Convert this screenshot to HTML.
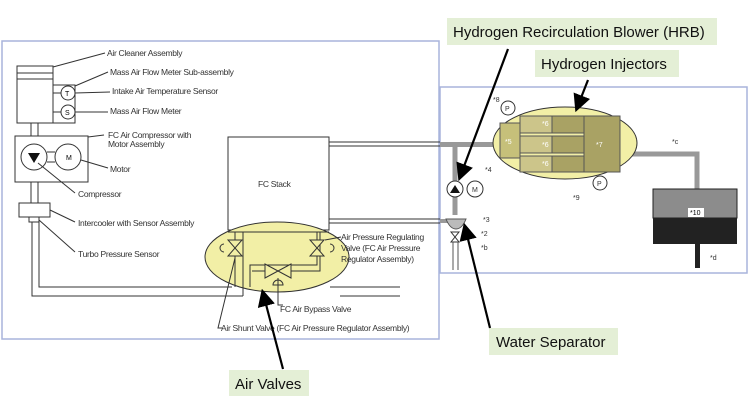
<!DOCTYPE html>
<html><head><meta charset="utf-8"><style>
body{margin:0;background:#fff;}
svg{display:block;font-family:"Liberation Sans",sans-serif;}
.s{font-size:8.5px;fill:#333;letter-spacing:-0.3px}
.c{font-family:"Liberation Sans",sans-serif;font-size:15px;fill:#111}
</style></head><body>
<svg width="750" height="404" viewBox="0 0 750 404">
<defs><marker id="ah" markerWidth="8" markerHeight="8" refX="6" refY="4" orient="auto"><path d="M0,0 L8,4 L0,8 z" fill="#000"/></marker></defs>
<!-- frames -->
<rect x="2" y="41" width="437" height="298" fill="none" stroke="#a8b4dc" stroke-width="1.5"/>
<rect x="440" y="87" width="307" height="186" fill="none" stroke="#a8b4dc" stroke-width="1.5"/>
<g stroke="#333" fill="none" stroke-width="1">
<!-- air cleaner -->
<rect x="17" y="66" width="36" height="57" fill="#fff"/>
<line x1="17" y1="73" x2="53" y2="73"/><line x1="17" y1="79" x2="53" y2="79"/>
<rect x="53" y="85" width="22" height="38"/>
<line x1="53" y1="93" x2="61" y2="93"/><line x1="53" y1="112" x2="61" y2="112"/>
<circle cx="68" cy="93" r="7" fill="#fff"/><circle cx="68" cy="112" r="7" fill="#fff"/>
<line x1="31" y1="123" x2="31" y2="136"/><line x1="38" y1="123" x2="38" y2="136"/>
<!-- compressor -->
<rect x="15" y="136" width="73" height="46"/>
<circle cx="34" cy="157" r="13" fill="#fff"/><circle cx="68" cy="157" r="13" fill="#fff"/>
<line x1="47" y1="152" x2="55" y2="152"/><line x1="47" y1="162" x2="55" y2="162"/>
<line x1="31" y1="182" x2="31" y2="203"/><line x1="38" y1="182" x2="38" y2="203"/>
<rect x="19" y="203" width="31" height="14"/>
<rect x="29" y="217" width="10" height="5"/>
<path d="M32 222 V296 H243"/><path d="M39 222 V287 H232"/>
<!-- leader lines left -->
<path d="M53 67 L105 53"/><path d="M75 86 L108 72"/><path d="M75 93 L110 92"/><path d="M75 112 L108 112"/>
<path d="M88 137 L104 135"/><path d="M81 160 L108 168"/><path d="M38 163 L75 193"/><path d="M50 210 L75 222"/><path d="M39 220 L75 252"/>
<!-- FC stack -->
<rect x="228" y="137" width="101" height="93" fill="#fff"/>
<line x1="329" y1="142" x2="440" y2="142"/><line x1="329" y1="146" x2="440" y2="146"/>
<line x1="329" y1="219" x2="440" y2="219"/><line x1="329" y1="223" x2="440" y2="223"/>
</g>
<text class="s" x="107" y="56">Air Cleaner Assembly</text>
<text class="s" x="110" y="75">Mass Air Flow Meter Sub-assembly</text>
<text class="s" x="112" y="94">Intake Air Temperature Sensor</text>
<text class="s" x="110" y="114">Mass Air Flow Meter</text>
<text class="s" x="108" y="138">FC Air Compressor with</text>
<text class="s" x="108" y="147">Motor Assembly</text>
<text class="s" x="110" y="172">Motor</text>
<text class="s" x="78" y="197">Compressor</text>
<text class="s" x="78" y="226">Intercooler with Sensor Assembly</text>
<text class="s" x="78" y="257">Turbo Pressure Sensor</text>
<text class="s" x="258" y="187">FC Stack</text>
<text x="66" y="160" font-size="7" font-family="Liberation Sans">M</text>
<text x="65" y="96" font-size="7" font-family="Liberation Sans">T</text>
<text x="65" y="115" font-size="7" font-family="Liberation Sans">S</text>
<path d="M28 153 L40 153 L34 163 z" fill="#111"/>
<!-- air valves ellipse -->
<ellipse cx="277" cy="257" rx="72" ry="35" fill="#f2efa6" stroke="#333" stroke-width="1"/>
<g stroke="#333" fill="none" stroke-width="1">
<line x1="228" y1="232" x2="329" y2="232"/>
<path d="M235 232 V287 M243 232 V296 M317 232 V265 H250 V287 M320 232 V271 H252"/>
<path d="M228 240 L242 240 L228 256 L242 256 z" fill="#f2efa6"/>
<path d="M310 240 L324 240 L310 256 L324 256 z" fill="#f2efa6"/>
<path d="M265 264 L265 278 L291 264 L291 278 z" fill="#f2efa6"/>
<path d="M224 244 a4 4 0 0 0 0 8"/><path d="M330 244 a4 4 0 0 1 0 8"/><path d="M273 285 a5 5 0 0 1 10 0 z"/>
<path d="M330 287 H400 M340 296 H400"/>
<path d="M278 278 V305 H283"/><path d="M235 258 L218 328 H222"/><path d="M325 240 L341 237"/>
</g>
<text class="s" x="341" y="240">Air Pressure Regulating</text>
<text class="s" x="341" y="251">Valve (FC Air Pressure</text>
<text class="s" x="341" y="262">Regulator Assembly)</text>
<text class="s" x="280" y="312">FC Air Bypass Valve</text>
<text class="s" x="221" y="331">Air Shunt Valve (FC Air Pressure Regulator Assembly)</text>
<!-- right side hydrogen -->
<g stroke="#555" fill="none">
<path d="M440 144.5 H500" stroke="#999" stroke-width="5"/>
<path d="M455 144 V215" stroke="#999" stroke-width="5"/>
<path d="M615 154 H697 V190" stroke="#999" stroke-width="5"/>
<path d="M440 221 H462" stroke="#999" stroke-width="4"/>
</g>
<ellipse cx="565" cy="143" rx="72" ry="36" fill="#f2efa6" stroke="#333"/>
<g stroke="#555" stroke-width="1">
<rect x="500" y="123" width="20" height="35" fill="#c6c07a"/>
<rect x="520" y="116" width="32" height="17" fill="#ccc58a"/><rect x="552" y="116" width="32" height="17" fill="#a9a264"/>
<rect x="520" y="136" width="32" height="17" fill="#ccc58a"/><rect x="552" y="136" width="32" height="17" fill="#a9a264"/>
<rect x="520" y="156" width="32" height="16" fill="#ccc58a"/><rect x="552" y="156" width="32" height="16" fill="#a9a264"/>
<rect x="584" y="116" width="36" height="56" fill="#a9a264"/>
</g>
<g font-size="7" fill="#fff" font-family="Liberation Sans"><text x="542" y="126">*6</text><text x="542" y="147">*6</text><text x="542" y="166">*6</text><text x="596" y="147">*7</text><text x="505" y="144">*5</text></g>
<g stroke="#333" fill="#fff"><circle cx="508" cy="108" r="7"/><circle cx="600" cy="183" r="7"/><circle cx="455" cy="189" r="8"/><circle cx="475" cy="189" r="8"/></g>
<g font-size="7" font-family="Liberation Sans" fill="#333"><text x="505" y="111">P</text><text x="597" y="186">P</text><text x="472" y="192">M</text>
<text x="485" y="172">*4</text><text x="483" y="222">*3</text><text x="481" y="236">*2</text><text x="481" y="250">*b</text><text x="672" y="144">*c</text><text x="573" y="200">*9</text><text x="710" y="260">*d</text><text x="493" y="102">*8</text></g>
<path d="M450 193 L460 193 L455 185 z" fill="#111"/>
<path d="M446 219 H466 Q462 229 456 229 Q450 229 446 219 z" fill="#bbb" stroke="#555"/>
<path d="M451 232 L459 232 L451 242 L459 242 z" fill="#fff" stroke="#333"/>
<path d="M453 242 V270 M458 242 V270" stroke="#555"/>
<rect x="653" y="189" width="84" height="29" fill="#8c8c8c" stroke="#222"/>
<rect x="653" y="218" width="84" height="26" fill="#222"/>
<rect x="695" y="244" width="5" height="24" fill="#222"/>
<rect x="688" y="208" width="16" height="9" fill="#fff"/><text x="690" y="215" font-size="7" font-family="Liberation Sans">*10</text>
<!-- callouts -->
<rect x="447" y="18" width="270" height="27" fill="#e4efd6"/>
<text class="c" x="453" y="37">Hydrogen Recirculation Blower (HRB)</text>
<rect x="535" y="50" width="144" height="27" fill="#e4efd6"/>
<text class="c" x="541" y="69">Hydrogen Injectors</text>
<rect x="489" y="328" width="129" height="27" fill="#e4efd6"/>
<text class="c" x="496" y="347">Water Separator</text>
<rect x="229" y="370" width="80" height="26" fill="#e4efd6"/>
<text class="c" x="235" y="389">Air Valves</text>
<g stroke="#000" stroke-width="2.2" marker-end="url(#ah)">
<line x1="508" y1="49" x2="460" y2="177"/>
<line x1="588" y1="80" x2="577" y2="108"/>
<line x1="490" y1="328" x2="465" y2="227"/>
<line x1="283" y1="369" x2="263" y2="293"/>
</g>
</svg>
</body></html>
